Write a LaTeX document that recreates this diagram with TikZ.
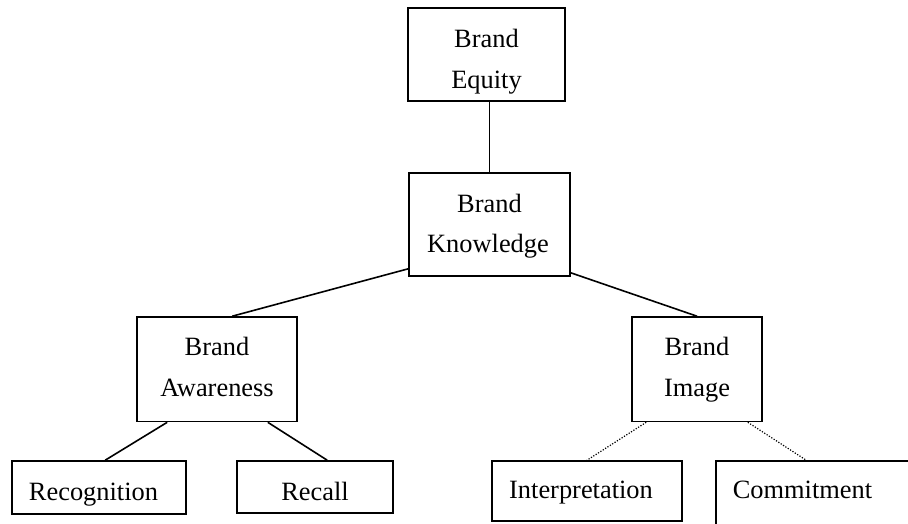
\documentclass[tikz,border=0pt]{standalone}
\usepackage{fontspec}
\setmainfont{Liberation Serif}
\begin{document}
\begin{tikzpicture}[x=1pt,y=-1pt,
  box/.style={draw, line width=1.6pt, rectangle, inner sep=0pt},
  txt/.style={anchor=base, inner sep=0pt, font=\fontsize{26.4}{30}\selectfont},
  conn/.style={line width=1.6pt},
  dconn/.style={line width=1.2pt, dash pattern=on 1.2pt off 1.6pt}]
\useasboundingbox[fill=white] (0,0) rectangle (908,523);
\clip (0,0) rectangle (908,523);
% boxes
\node[box, minimum width=157pt, minimum height=93pt]  (eq) at (486.5,54.5) {};
\node[box, minimum width=161pt, minimum height=103pt] (kn) at (489.5,224.5) {};
\node[box, minimum width=160pt, minimum height=104.5pt] (aw) at (217,369.25) {};
\node[box, minimum width=130pt, minimum height=104.5pt] (im) at (697,369.25) {};
\node[box, minimum width=174pt, minimum height=53pt]  (rc) at (99,487.5) {};
\node[box, minimum width=156pt, minimum height=52pt]  (rl) at (315,487) {};
\node[box, minimum width=190pt, minimum height=60pt]  (it) at (587,491) {};
\node[box, minimum width=220pt, minimum height=80pt]  (cm) at (826,501) {};
% texts
\node[txt] (eq1) at (486.5,47) {Brand};
\node[txt] (eq2) at (486.5,88) {Equity};
\node[txt] (kn1) at (489.5,212) {Brand};
\node[txt] (kn2) at (488,252) {Knowledge};
\node[txt] (aw1) at (217,355) {Brand};
\node[txt] (aw2) at (217,396) {Awareness};
\node[txt] (im1) at (697,355) {Brand};
\node[txt] (im2) at (697,396) {Image};
\node[txt] (rc1) at (93.5,500) {Recognition};
\node[txt] (rl1) at (315,500) {Recall};
\node[txt] (it1) at (581,498) {Interpretation};
\node[txt] (cm1) at (802.5,498) {Commitment};
% connectors
\draw[conn] (kn.north |- eq.south) -- (kn.north);
\draw[conn] ([yshift=8pt]kn.south west) -- ([xshift=96pt]aw.north west);
\draw[conn] ([yshift=4pt]kn.south east) -- (im.north);
\draw[conn] ([xshift=31pt]aw.south west) -- ([xshift=94pt]rc.north west);
\draw[conn] ([xshift=-30pt]aw.south east) -- ([xshift=91pt]rl.north west);
\draw[dconn] ([xshift=15pt]im.south west) -- (it.north);
\draw[dconn] ([xshift=-15pt]im.south east) -- ([xshift=91pt]cm.north west);
\end{tikzpicture}
\end{document}
